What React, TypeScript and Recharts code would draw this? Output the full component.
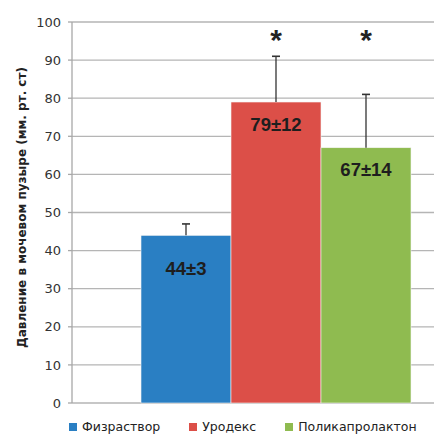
import React from 'react';
import { BarChart, Bar, XAxis, YAxis, CartesianGrid, Legend } from 'recharts';

// Groups, mean pressure and standard deviation (mm Hg)
const groups = ['Физраствор', 'Уродекс', 'Поликапролактон'];
const means = [44, 79, 67];
const sds = [3, 12, 14];
const significant = [false, true, true];
const yTicks = [0, 10, 20, 30, 40, 50, 60, 70, 80, 90, 100];
const yTitle = 'Давление в мочевом пузыре (мм. рт. ст)';

const colors = ['#2a7fc3', '#dc4f48', '#8fbb50'];
const seriesKeys = ['g0', 'g1', 'g2'];

const row: Record<string, number | string> = { name: 'all' };
seriesKeys.forEach((k, i) => {
  row[k] = means[i];
});
const data = [row];

// distance (px) from bar top to the centre of its value label
const labelDrop = [33, 22, 22];
// level (in axis units) at which significance marks sit
const starLevel = 96;

function makeShape(i: number) {
  return (props: any) => {
    const { x, y, width, height } = props;
    const perUnit = height / means[i];
    const cx = x + width / 2;
    const errTop = y - sds[i] * perUnit;
    const baseY = y + height;
    const starY = baseY - starLevel * perUnit;
    return (
      <g>
        <rect x={x} y={y} width={width} height={height} fill={colors[i]} stroke="#f4f4f4" strokeWidth={0.6} />
        <line x1={cx} x2={cx} y1={y} y2={errTop} stroke="#333" strokeWidth={1.3} />
        <line x1={cx - 4} x2={cx + 4} y1={errTop} y2={errTop} stroke="#333" strokeWidth={1.6} />
        <text
          x={cx}
          y={y + labelDrop[i]}
          textAnchor="middle"
          dominantBaseline="central"
          fontFamily="'Liberation Sans', Arial, sans-serif"
          fontWeight="bold"
          fontSize={18.5}
          fill="#1e1e1e"
        >
          {`${means[i]}±${sds[i]}`}
        </text>
        {significant[i] && (
          <text
            x={cx}
            y={starY + 13}
            textAnchor="middle"
            fontFamily="'Liberation Sans', Arial, sans-serif"
            fontWeight="bold"
            fontSize={30}
            fill="#222"
          >
            *
          </text>
        )}
      </g>
    );
  };
}

const renderLegend = () => (
  <div
    style={{
      display: 'flex',
      alignItems: 'center',
      paddingLeft: 69,
      paddingTop: 17,
      fontFamily: "'DejaVu Sans', Verdana, sans-serif",
      fontSize: 12.5,
      color: '#222',
      lineHeight: '14px',
      height: 14,
    }}
  >
    {groups.map((g, i) => (
      <div key={g} style={{ display: 'flex', alignItems: 'center', marginRight: 29 }}>
        <span style={{ width: 8, height: 8, background: colors[i], display: 'inline-block', marginRight: 5 }} />
        <span>{g}</span>
      </div>
    ))}
  </div>
);

const renderYTitle = (props: any) => {
  const vb = props.viewBox;
  const cx = 22;
  const cy = vb.y + vb.height / 2 - 5;
  return (
    <text
      x={cx}
      y={cy}
      transform={`rotate(-90 ${cx} ${cy})`}
      textAnchor="middle"
      dominantBaseline="central"
      fontFamily="'DejaVu Sans', Verdana, sans-serif"
      fontWeight="bold"
      fontSize={12}
      fill="#222"
    >
      {yTitle}
    </text>
  );
};

export default function App() {
  return (
    <div style={{ position: 'absolute', left: 0, top: 0, width: 434, height: 435, background: '#fff', overflow: 'hidden' }}>
      <BarChart
        width={434}
        height={435}
        data={data}
        margin={{ top: 22, right: 0, bottom: 0, left: 0 }}
        barCategoryGap={0}
        barGap={0}
      >
        <CartesianGrid vertical={false} stroke="#b5b5b5" strokeWidth={1.3} />
        <XAxis dataKey="name" hide padding={{ left: 69, right: 22 }} />
        <YAxis
          width={72}
          domain={[0, 100]}
          ticks={yTicks}
          interval={0}
          tickSize={4}
          tickMargin={7}
          axisLine={{ stroke: '#a8a8a8', strokeWidth: 1.3 }}
          tickLine={{ stroke: '#a8a8a8', strokeWidth: 1.3 }}
          tick={{ fontFamily: "'DejaVu Sans', Verdana, sans-serif", fontSize: 13, fill: '#333' }}
          label={{ content: renderYTitle }}
        />
        <Legend verticalAlign="bottom" height={32} content={renderLegend} wrapperStyle={{ left: 0, width: 434 }} />
        {seriesKeys.map((k, i) => (
          <Bar key={k} dataKey={k} name={groups[i]} fill={colors[i]} isAnimationActive={false} shape={makeShape(i)} />
        ))}
      </BarChart>
    </div>
  );
}
